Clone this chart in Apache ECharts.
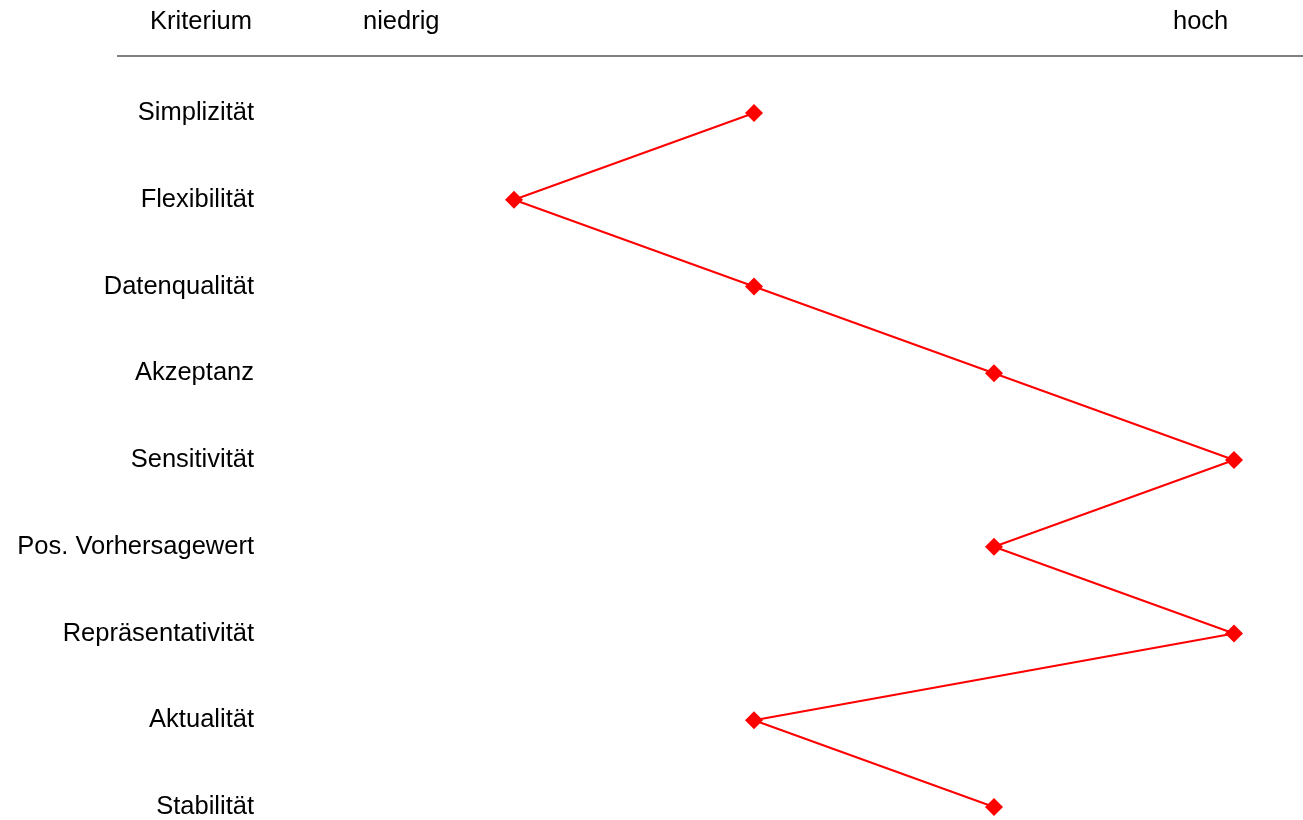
<!DOCTYPE html>
<html>
<head>
<meta charset="utf-8">
<script src="https://cdn.jsdelivr.net/npm/echarts@6/dist/echarts.min.js"></script>
<style>html,body{margin:0;padding:0;background:#fff}#c{width:1303px;height:820px}</style>
</head>
<body>
<div id="c"></div>
<script>
const criteria = ["Simplizität","Flexibilität","Datenqualität","Akzeptanz","Sensitivität","Pos. Vorhersagewert","Repräsentativität","Aktualität","Stabilität"];
const ratings = [2,1,2,3,4,3,4,2,3];
const headerLabels = ["Kriterium","niedrig","hoch"];

const chart = echarts.init(document.getElementById('c'));
const font = '"Liberation Sans", Arial, sans-serif';
const fs = 25.5;
chart.setOption({
  animation:false,
  grid:{left:274,right:9,top:113,bottom:10,containLabel:false},
  xAxis:{type:'value',min:0,max:4.25,show:false},
  yAxis:{type:'category',data:criteria,inverse:true,boundaryGap:false,
    axisLine:{show:false},axisTick:{show:false},splitLine:{show:false},
    axisLabel:{fontSize:fs,color:'#000',fontFamily:font,margin:20,padding:[4,0,0,0]}},
  graphic:[
    {type:'text',left:150,top:9,style:{text:headerLabels[0],font:fs+'px '+font,fill:'#000'}},
    {type:'text',left:363,top:9,style:{text:headerLabels[1],font:fs+'px '+font,fill:'#000'}},
    {type:'text',left:1173,top:9,style:{text:headerLabels[2],font:fs+'px '+font,fill:'#000'}},
    {type:'line',shape:{x1:117,y1:56,x2:1303,y2:56},style:{stroke:'#808080',lineWidth:2}}
  ],
  series:[{type:'line',data:ratings,symbol:'diamond',symbolSize:18,
    lineStyle:{color:'#ff0000',width:2},itemStyle:{color:'#ff0000'}}]
});
</script>
</body>
</html>
